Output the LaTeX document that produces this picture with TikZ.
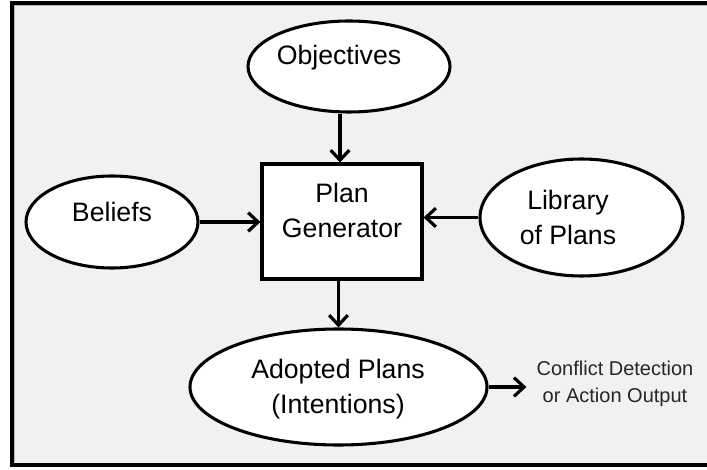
\documentclass[tikz,border=0pt]{standalone}
\usepackage{fontspec}
\setmainfont{Liberation Sans}
\usetikzlibrary{shapes.geometric,arrows.meta}
\definecolor{panelgray}{HTML}{F1F1F1}
\definecolor{notegray}{HTML}{262626}
\begin{document}
\begin{tikzpicture}[x=0.75pt,y=-0.75pt,
  bubble/.style={ellipse,draw,line width=2.3pt,fill=white,inner sep=0pt},
  genbox/.style={rectangle,draw,line width=2.3pt,fill=white,inner sep=0pt},
  caption/.style={font=\fontsize{20}{26.25}\selectfont,align=center,inner sep=0pt},
  note/.style={font=\fontsize{15}{20.25}\selectfont,align=center,inner sep=0pt,text=notegray},
  flow/.style={line width=2.4pt,-{Straight Barb[length=7.5pt,width=14pt,line width=2.4pt]}}]
  \useasboundingbox (0,0) rectangle (707,470);
  \clip (0,0) rectangle (707,470);

  % panel
  \draw[line width=2.4pt,fill=panelgray] (12,3) rectangle (716,465);
  \draw[gray!55,line width=0.8pt] (14.5,5.5) -- (716,5.5);
  \draw[gray!55,line width=0.8pt] (14.5,5.5) -- (14.5,463);

  % shapes
  \node[bubble,minimum width=202*0.75pt,minimum height=91*0.75pt] (obj) at (349,66.5) {};
  \node[bubble,minimum width=172*0.75pt,minimum height=92*0.75pt] (bel) at (112,222) {};
  \node[bubble,minimum width=203*0.75pt,minimum height=117*0.75pt] (lib) at (581.5,217.5) {};
  \node[bubble,minimum width=297*0.75pt,minimum height=116*0.75pt] (adp) at (338.5,387) {};
  \node[genbox,minimum width=160*0.75pt,minimum height=115*0.75pt] (gen) at (342,221.5) {};

  % labels
  \node[caption,anchor=base] (objt) at (339,65) {Objectives};
  \node[caption,anchor=base] (belt) at (112,222) {Beliefs};
  \node[caption] (libt) at (568,217) {Library\\of Plans};
  \node[caption] (gent) at (342,210) {Plan\\Generator};
  \node[caption] (adpt) at (338,389) {Adopted Plans\\(Intentions)};
  \node[note] (out) at (615,384) {Conflict Detection\\or Action Output};

  % connectors
  \draw[flow] ([xshift=-1.5pt]obj.south -| gen.north) -- ([xshift=-1.5pt]gen.north);
  \draw[flow] (bel.east) -- (bel.east -| gen.west);
  \draw[flow] (lib.west) -- (lib.west -| gen.east);
  \draw[flow] (gen.south -| adp.north) -- (adp.north);
  \draw[flow,shorten >=7.5pt] (adp.east) -- (adp.east -| out.west);
\end{tikzpicture}
\end{document}
